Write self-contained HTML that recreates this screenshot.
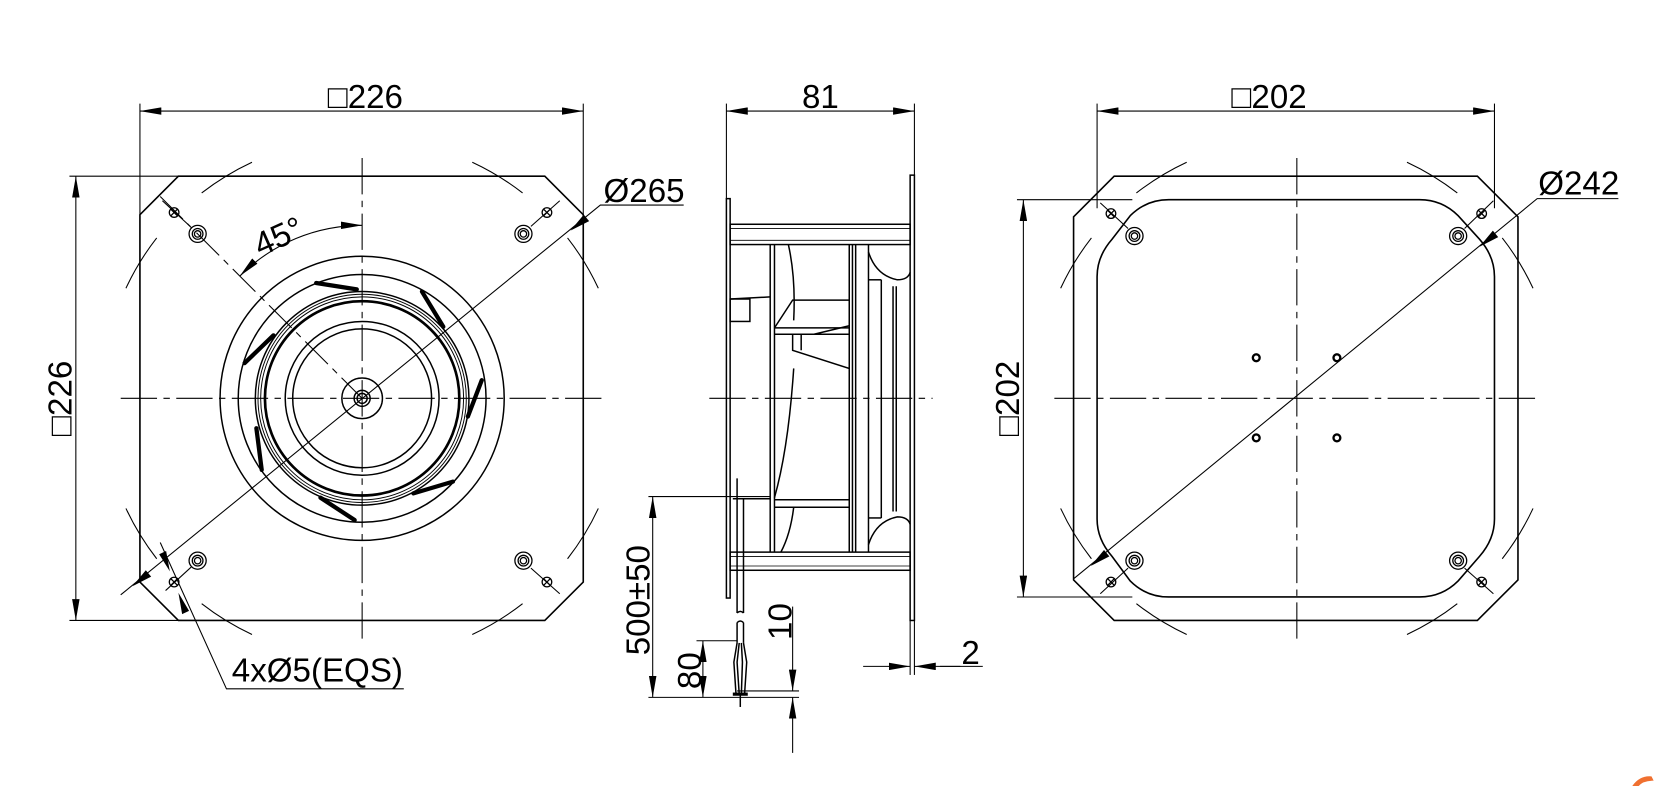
<!DOCTYPE html>
<html><head><meta charset="utf-8"><style>
html,body{margin:0;padding:0;background:#fff;}
svg{display:block;}
text{font-family:"Liberation Sans",sans-serif;font-size:31px;fill:#000;}
</style></head><body>
<svg width="1675" height="786" viewBox="0 0 1568 736" preserveAspectRatio="none" xmlns="http://www.w3.org/2000/svg">
<defs>
<marker id="a" viewBox="0 0 20 7" refX="20" refY="3.5" markerWidth="20" markerHeight="7" markerUnits="userSpaceOnUse" orient="auto-start-reverse"><path d="M0,0 L20,3.5 L0,7z" fill="#000"/></marker>
</defs>
<g fill="none" stroke="#000" stroke-width="1">
<!-- ============ LEFT VIEW ============ -->
<line x1="131" y1="97" x2="131" y2="545"/>
<line x1="546" y1="97" x2="546" y2="545"/>
<line x1="65" y1="165" x2="170" y2="165"/>
<line x1="65" y1="581" x2="170" y2="581"/>
<line x1="131" y1="104" x2="546" y2="104" marker-start="url(#a)" marker-end="url(#a)"/>
<line x1="71" y1="165" x2="71" y2="581" marker-start="url(#a)" marker-end="url(#a)"/>
<path d="M167,165 H510 L546,201 V545 L510,581 H167 L131,545 V201 Z" stroke-width="1.5"/>
<path d="M235.9,151.9 A244,244 0 0,0 188.8,180.7 M146.7,222.8 A244,244 0 0,0 117.9,269.9"/>
<path d="M442.1,151.9 A244,244 0 0,1 489.2,180.7 M531.3,222.8 A244,244 0 0,1 560.1,269.9"/>
<path d="M235.9,594.1 A244,244 0 0,1 188.8,565.3 M146.7,523.2 A244,244 0 0,1 117.9,476.1"/>
<path d="M442.1,594.1 A244,244 0 0,0 489.2,565.3 M531.3,523.2 A244,244 0 0,0 560.1,476.1"/>
<line x1="339" y1="148" x2="339" y2="600" stroke-dasharray="34,6,6,6"/>
<line x1="113" y1="373" x2="565" y2="373" stroke-dasharray="34,6,6,6"/>
<line x1="150" y1="184" x2="339" y2="373" stroke-dasharray="30,6,6,6"/>
<path d="M339,211 A162,162 0 0,0 224.5,258.5" marker-start="url(#a)" marker-end="url(#a)"/>
<g stroke-width="1.4">
<circle cx="339" cy="373" r="133"/>
<circle cx="339" cy="373" r="116"/>
<circle cx="339" cy="373" r="100"/>
<circle cx="339" cy="373" r="97.5" stroke-width="0.9"/>
<circle cx="339" cy="373" r="95" stroke-width="0.9"/>
<circle cx="339" cy="373" r="91" stroke-width="2.5"/>
<circle cx="339" cy="373" r="72"/>
<circle cx="339" cy="373" r="65"/>
<circle cx="339" cy="373" r="19"/>
<circle cx="339" cy="373" r="7.5"/>
<circle cx="339" cy="373" r="4.7"/>
</g>
<g stroke-width="4" stroke-linecap="round">
<line x1="296" y1="265" x2="334" y2="271"/>
<line x1="395" y1="273" x2="415" y2="306"/>
<line x1="451" y1="356" x2="438" y2="390"/>
<line x1="424" y1="451" x2="387" y2="462"/>
<line x1="332" y1="487" x2="300" y2="466"/>
<line x1="240" y1="401" x2="245" y2="440"/>
<line x1="256" y1="314" x2="229" y2="340"/>
</g>
<g stroke-width="1.2">
<circle cx="185" cy="219" r="8"/><circle cx="185" cy="219" r="5"/><circle cx="185" cy="219" r="3"/>
<circle cx="490" cy="219" r="8"/><circle cx="490" cy="219" r="5"/><circle cx="490" cy="219" r="3"/>
<circle cx="185" cy="525" r="8"/><circle cx="185" cy="525" r="5"/><circle cx="185" cy="525" r="3"/>
<circle cx="490" cy="525" r="8"/><circle cx="490" cy="525" r="5"/><circle cx="490" cy="525" r="3"/>
<circle cx="163" cy="199" r="4.5"/><circle cx="512" cy="199" r="4.5"/>
<circle cx="163" cy="545" r="4.5"/><circle cx="512" cy="545" r="4.5"/>
<path d="M159.8,195.8 L166.2,202.2 M166.2,195.8 L159.8,202.2"/>
<path d="M508.8,195.8 L515.2,202.2 M515.2,195.8 L508.8,202.2"/>
<path d="M159.8,541.8 L166.2,548.2 M166.2,541.8 L159.8,548.2"/>
<path d="M508.8,541.8 L515.2,548.2 M515.2,541.8 L508.8,548.2"/>
</g>
<line x1="152" y1="188" x2="178" y2="212"/>
<line x1="497" y1="212" x2="524" y2="188"/>
<line x1="155" y1="553" x2="179" y2="531"/>
<line x1="497" y1="532" x2="524" y2="556"/>
<polyline points="113,557 562,192 640,192"/>
<polyline points="150,508 212,645 378,645"/>
<!-- ============ SIDE VIEW ============ -->
<line x1="680" y1="97" x2="680" y2="187"/>
<line x1="856" y1="97" x2="856" y2="165"/>
<line x1="680" y1="104" x2="856" y2="104" marker-start="url(#a)" marker-end="url(#a)"/>
<g stroke-width="1.4">
<rect x="680" y="186" width="3.5" height="374"/>
<rect x="852" y="164" width="4" height="417"/>
<rect x="683.5" y="210" width="168.5" height="19"/>
<line x1="683.5" y1="214" x2="852" y2="214" stroke-width="0.8"/>
<line x1="683.5" y1="225" x2="852" y2="225" stroke-width="0.8"/>
<rect x="683.5" y="517" width="168.5" height="17"/>
<line x1="683.5" y1="521" x2="852" y2="521" stroke-width="0.8"/>
<line x1="683.5" y1="530" x2="852" y2="530" stroke-width="0.8"/>
<line x1="721" y1="229" x2="721" y2="517"/>
<line x1="725" y1="229" x2="725" y2="517"/>
<line x1="795" y1="229" x2="795" y2="517"/>
<line x1="798" y1="229" x2="798" y2="517"/>
<line x1="801" y1="229" x2="801" y2="517"/>
<line x1="813" y1="229" x2="813" y2="517"/>
<line x1="825" y1="262" x2="825" y2="485"/>
<line x1="836" y1="268" x2="836" y2="479"/>
<line x1="839" y1="268" x2="839" y2="479"/>
<path d="M813,236 Q820,258 840,262 Q850,262 852,255"/>
<path d="M813,510 Q820,488 840,484 Q850,484 852,491"/>
<line x1="813" y1="262" x2="825" y2="262"/>
<line x1="813" y1="485" x2="825" y2="485"/>
<path d="M738,229 Q745,260 743,300"/>
<path d="M725,307 L742,281 H795"/>
<line x1="725" y1="307" x2="795" y2="307"/>
<line x1="725" y1="313" x2="795" y2="313"/>
<path d="M742,313 V328 L795,345 V313"/>
<path d="M750,313 V328"/>
<path d="M762,313 L795,305"/>
<path d="M743,345 Q738,420 725,466"/>
<line x1="725" y1="468" x2="795" y2="468"/>
<line x1="725" y1="475" x2="795" y2="475"/>
<path d="M743,475 Q740,500 731,517"/>
<rect x="683.5" y="280" width="18.5" height="21"/>
<line x1="683.5" y1="280" x2="721" y2="278"/>
<line x1="686" y1="467" x2="721" y2="467"/>
<line x1="690" y1="448" x2="690" y2="574"/>
<line x1="696" y1="467" x2="696" y2="574"/>
<path d="M690,574 q3,-3 6,0 M690,583 q3,-3 6,0"/>
<line x1="690" y1="583" x2="690" y2="602"/>
<line x1="696" y1="583" x2="696" y2="602"/>
<path d="M690,602 L687,620 L689,650 M692,602 L690,620 L692,650 M694,602 L695,620 L694,650 M696,602 L699,620 L697,650"/>
<path d="M686,650 H700" stroke-width="3"/>
<line x1="693" y1="650" x2="693" y2="662"/>
</g>
<line x1="664" y1="373" x2="873" y2="373" stroke-dasharray="34,6,6,6"/>
<line x1="607" y1="465" x2="721" y2="465"/>
<line x1="607" y1="653" x2="748" y2="653"/>
<line x1="652" y1="600" x2="690" y2="600"/>
<line x1="690" y1="647" x2="748" y2="647"/>
<line x1="611" y1="465" x2="611" y2="653" marker-start="url(#a)" marker-end="url(#a)"/>
<line x1="658" y1="600" x2="658" y2="653" marker-start="url(#a)" marker-end="url(#a)"/>
<line x1="742" y1="568" x2="742" y2="647" marker-end="url(#a)"/>
<line x1="742" y1="705" x2="742" y2="653" marker-end="url(#a)"/>
<line x1="856" y1="581" x2="856" y2="632"/>
<line x1="852" y1="581" x2="852" y2="632"/>
<line x1="808" y1="624" x2="852" y2="624" marker-end="url(#a)"/>
<line x1="899" y1="624" x2="856" y2="624" marker-end="url(#a)"/>
<line x1="880" y1="624" x2="920" y2="624"/>
<!-- ============ RIGHT VIEW ============ -->
<line x1="1027" y1="97" x2="1027" y2="195"/>
<line x1="1399" y1="97" x2="1399" y2="195"/>
<line x1="952" y1="187" x2="1060" y2="187"/>
<line x1="952" y1="559" x2="1060" y2="559"/>
<line x1="1027" y1="104" x2="1399" y2="104" marker-start="url(#a)" marker-end="url(#a)"/>
<line x1="958" y1="187" x2="958" y2="559" marker-start="url(#a)" marker-end="url(#a)"/>
<path d="M1043,165 H1383 L1421,203 V543 L1383,581 H1043 L1005,543 V203 Z" stroke-width="1.5"/>
<path d="M1094,187 H1329 Q1350,187 1365,202 L1385,224 Q1399,240 1399,259 V486 Q1399,505 1385,521 L1365,544 Q1350,559 1329,559 H1094 Q1073,559 1058,544 L1041,521 Q1027,505 1027,486 V259 Q1027,240 1041,224 L1058,202 Q1073,187 1094,187 Z" stroke-width="1.5"/>
<g transform="translate(875,0)">
<path d="M235.9,151.9 A244,244 0 0,0 188.8,180.7 M146.7,222.8 A244,244 0 0,0 117.9,269.9"/>
<path d="M442.1,151.9 A244,244 0 0,1 489.2,180.7 M531.3,222.8 A244,244 0 0,1 560.1,269.9"/>
<path d="M235.9,594.1 A244,244 0 0,1 188.8,565.3 M146.7,523.2 A244,244 0 0,1 117.9,476.1"/>
<path d="M442.1,594.1 A244,244 0 0,0 489.2,565.3 M531.3,523.2 A244,244 0 0,0 560.1,476.1"/>
</g>
<line x1="1214" y1="148" x2="1214" y2="600" stroke-dasharray="34,6,6,6"/>
<line x1="987" y1="373" x2="1440" y2="373" stroke-dasharray="34,6,6,6"/>
<g stroke-width="1.2">
<circle cx="1062" cy="221" r="8"/><circle cx="1062" cy="221" r="5"/><circle cx="1062" cy="221" r="3"/>
<circle cx="1365" cy="221" r="8"/><circle cx="1365" cy="221" r="5"/><circle cx="1365" cy="221" r="3"/>
<circle cx="1062" cy="525" r="8"/><circle cx="1062" cy="525" r="5"/><circle cx="1062" cy="525" r="3"/>
<circle cx="1365" cy="525" r="8"/><circle cx="1365" cy="525" r="5"/><circle cx="1365" cy="525" r="3"/>
<circle cx="1040" cy="200" r="4.5"/><circle cx="1387" cy="200" r="4.5"/>
<circle cx="1040" cy="545" r="4.5"/><circle cx="1387" cy="545" r="4.5"/>
<path d="M1036.8,196.8 L1043.2,203.2 M1043.2,196.8 L1036.8,203.2"/>
<path d="M1383.8,196.8 L1390.2,203.2 M1390.2,196.8 L1383.8,203.2"/>
<path d="M1036.8,541.8 L1043.2,548.2 M1043.2,541.8 L1036.8,548.2"/>
<path d="M1383.8,541.8 L1390.2,548.2 M1390.2,541.8 L1383.8,548.2"/>
</g>
<line x1="1030" y1="190" x2="1056" y2="214"/>
<line x1="1371" y1="214" x2="1398" y2="188"/>
<line x1="1030" y1="556" x2="1056" y2="532"/>
<line x1="1371" y1="532" x2="1398" y2="556"/>
<g stroke-width="2.2">
<circle cx="1176" cy="335" r="3.2"/><circle cx="1251.5" cy="335" r="3.2"/>
<circle cx="1176" cy="410" r="3.2"/><circle cx="1251.5" cy="410" r="3.2"/>
</g>
<polyline points="1005,542 1439,186 1515,186"/>
</g>
<g fill="#000">
<polygon points="534,216 551.5,207 546.5,201"/>
<polygon points="124,549 141.5,540 136.5,534"/>
<polygon points="159,535 155.5,516 149,519"/>
<polygon points="167,555 177,572 170.5,575"/>
<polygon points="1385,231 1402.5,222 1397.5,216"/>
<polygon points="1021,530 1038.5,521 1033.5,515"/>
</g>
<path d="M1528,736 Q1535,726 1546,727 L1548,731 Q1538,731 1534,736 Z" fill="#f07030"/>
<text x="342" y="101" text-anchor="middle">□226</text>
<text transform="translate(67,373) rotate(-90)" text-anchor="middle">□226</text>
<text x="768" y="101" text-anchor="middle">81</text>
<text x="1188" y="101" text-anchor="middle">□202</text>
<text transform="translate(954,373) rotate(-90)" text-anchor="middle">□202</text>
<text x="565" y="189">Ø265</text>
<text x="1440" y="182">Ø242</text>
<text transform="translate(265,231) rotate(-24)" text-anchor="middle">45°</text>
<text x="217" y="638">4xØ5(EQS)</text>
<text transform="translate(608,562) rotate(-90)" text-anchor="middle">500±50</text>
<text transform="translate(656,628) rotate(-90)" text-anchor="middle">80</text>
<text transform="translate(741,582) rotate(-90)" text-anchor="middle">10</text>
<text x="900" y="622">2</text>
</svg>
</body></html>
